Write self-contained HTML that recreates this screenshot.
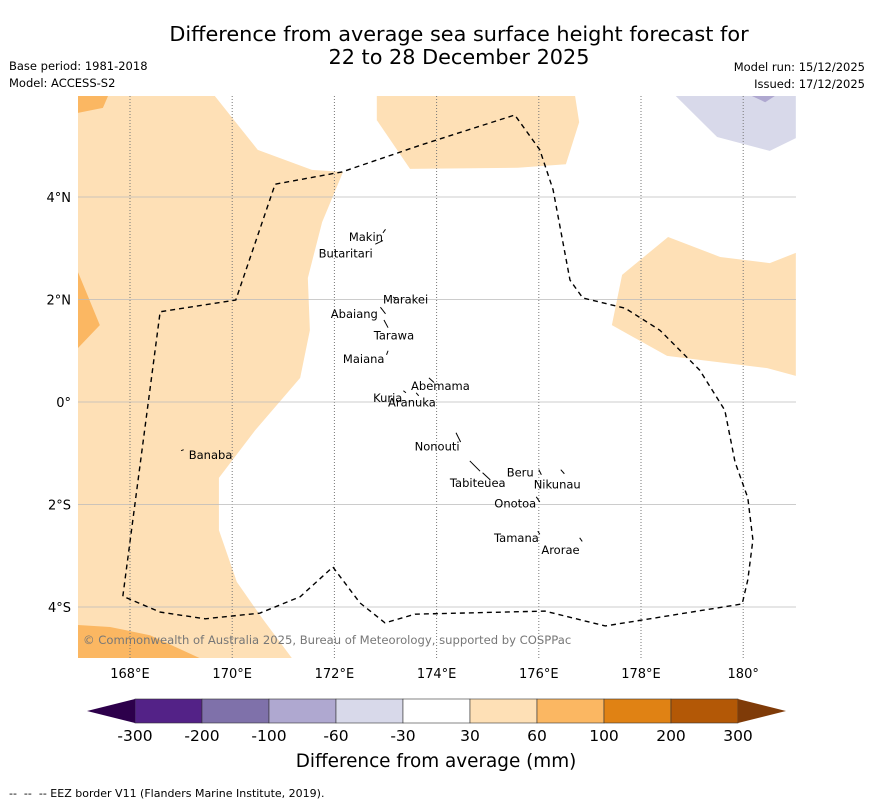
<!DOCTYPE html>
<html><head><meta charset="utf-8"><style>
body{margin:0;background:#fff;font-family:"Liberation Sans","DejaVu Sans",sans-serif}
svg text{font-family:"DejaVu Sans","Liberation Sans",sans-serif}
</style></head><body>
<svg id="c" width="873" height="804" viewBox="0 0 873 804" xmlns="http://www.w3.org/2000/svg">
<text x="459" y="41" text-anchor="middle" font-size="20.8">Difference from average sea surface height forecast for</text>
<text x="459" y="64" text-anchor="middle" font-size="20.8">22 to 28 December 2025</text>
<text x="9" y="70" font-size="11.5">Base period: 1981-2018</text>
<text x="9" y="87" font-size="11.5">Model: ACCESS-S2</text>
<text x="865" y="71" text-anchor="end" font-size="11.5">Model run: 15/12/2025</text>
<text x="865" y="88" text-anchor="end" font-size="11.5">Issued: 17/12/2025</text>
<defs><clipPath id="mc"><rect x="78" y="96" width="718" height="562"/></clipPath></defs>
<g id="map" clip-path="url(#mc)"></g>
<g id="axes"></g>
<text x="83" y="644" font-size="11.6" fill="#777">© Commonwealth of Australia 2025, Bureau of Meteorology, supported by COSPPac</text>
<g id="cbar"></g>
<text x="436" y="767" text-anchor="middle" font-size="18.4">Difference from average (mm)</text>
<text x="9" y="797" font-size="11" xml:space="preserve" style="white-space:pre">--  --  -- EEZ border V11 (Flanders Marine Institute, 2019).</text>
</svg>
<script>
const lonTicks=[168,170,172,174,176,178,180];
const lonLabels=["168°E","170°E","172°E","174°E","176°E","178°E","180°"];
const latTicks=[4,2,0,-2,-4];
const latLabels=["4°N","2°N","0°","2°S","4°S"];
const cbLevels=["-300","-200","-100","-60","-30","30","60","100","200","300"];
const cbColors=["#532287","#7f71aa","#afa8d0","#d8d9ea","#ffffff","#fee0b6","#fbb762","#e08214","#b35806"];
const lightOrange=[[166.98,5.97],[169.66,5.97],[170.5,4.92],[171.56,4.53],[172.17,4.49],[171.76,3.51],[171.48,2.42],[171.52,1.40],[171.33,0.47],[170.45,-0.55],[169.74,-1.48],[169.74,-2.50],[170.09,-3.51],[170.58,-4.21],[171.17,-5.0],[166.98,-5.0]];
const darkTL=[[166.98,5.97],[167.57,5.97],[167.47,5.74],[166.98,5.64]];
const darkLeft=[[166.98,2.54],[167.41,1.50],[166.98,1.05]];
const darkBottom=[[166.98,-4.35],[167.61,-4.39],[168.39,-4.55],[169.37,-5.0],[166.98,-5.0]];
const topMid=[[172.83,5.97],[176.71,5.97],[176.79,5.46],[176.53,4.64],[175.59,4.57],[173.48,4.55],[172.83,5.50]];
const rightPoly=[[178.53,3.22],[179.55,2.83],[180.52,2.71],[181.03,2.91],[181.03,0.51],[180.47,0.66],[178.51,0.90],[177.43,1.50],[177.63,2.48]];
const lavender=[[178.68,5.97],[179.49,5.17],[180.52,4.90],[181.03,5.15],[181.03,5.97]];
const purpleTip=[[180.17,5.97],[180.62,5.97],[180.43,5.85]];
const eez=[[167.86,-3.79],[168.59,1.76],[170.07,1.99],[170.84,4.25],[172.15,4.49],[173.68,5.01],[175.53,5.60],[176.02,4.92],[176.28,4.14],[176.61,2.38],[176.86,2.03],[177.69,1.83],[178.37,1.40],[179.15,0.62],[179.64,-0.16],[179.84,-1.17],[180.09,-1.87],[180.19,-2.69],[180.09,-3.47],[179.98,-3.94],[177.30,-4.37],[176.12,-4.08],[173.58,-4.14],[172.99,-4.31],[172.50,-3.92],[171.97,-3.22],[171.33,-3.80],[170.54,-4.12],[169.47,-4.23],[168.59,-4.10],[167.86,-3.79]];
const islands=[["Makin",172.95,3.22,"end"],["Butaritari",172.75,2.90,"end"],["Marakei",172.95,2.00,"start"],["Abaiang",172.85,1.72,"end"],["Tarawa",172.77,1.30,"start"],["Maiana",172.98,0.84,"end"],["Abemama",173.5,0.31,"start"],["Kuria",173.33,0.08,"end"],["Aranuka",173.05,-0.01,"start"],["Nonouti",174.45,-0.87,"end"],["Banaba",169.15,-1.03,"start"],["Tabiteuea",175.35,-1.58,"end"],["Beru",175.9,-1.38,"end"],["Nikunau",175.9,-1.61,"start"],["Onotoa",175.95,-1.98,"end"],["Tamana",176.0,-2.65,"end"],["Arorae",176.05,-2.89,"start"]];
const coast=[[172.95,3.3,173.0,3.37],[172.8,3.08,172.95,3.15],[173.2,2.0,173.15,2.05],[172.9,1.85,173.0,1.72],[172.97,1.60,173.05,1.45],[173.02,0.92,173.05,1.0],[173.85,0.47,173.95,0.38],[173.35,0.22,173.4,0.18],[173.6,0.18,173.65,0.12],[174.38,-0.6,174.47,-0.78],[174.65,-1.15,174.85,-1.35],[174.9,-1.38,175.05,-1.52],[176.0,-1.32,176.05,-1.42],[176.43,-1.32,176.5,-1.40],[175.95,-1.85,176.02,-1.95],[175.98,-2.52,176.02,-2.58],[176.8,-2.65,176.85,-2.72],[169.0,-0.95,169.05,-0.93]];
const NS="http://www.w3.org/2000/svg";
const x0=130,dx=51.1,y0=402,dy=51.25;
const X=lon=>x0+(lon-168)*dx, Y=lat=>y0-lat*dy;
function mk(p,tag,a){const e=document.createElementNS(NS,tag);for(const k in a)e.setAttribute(k,a[k]);p.appendChild(e);return e;}
const map=document.getElementById('map');
function poly(pts,fill,name){const e=mk(map,'polygon',{points:pts.map(p=>X(p[0])+','+Y(p[1])).join(' '),fill:fill});

}
poly(lightOrange,'#fee0b6','anomaly-30-60-west');
poly(darkTL,'#fbb762','anomaly-60-100-northwest');
poly(darkLeft,'#fbb762','anomaly-60-100-west');
poly(darkBottom,'#fbb762','anomaly-60-100-southwest');
poly(topMid,'#fee0b6','anomaly-30-60-north');
poly(rightPoly,'#fee0b6','anomaly-30-60-east');
poly(lavender,'#d8d9ea','anomaly-neg30-neg60-northeast');
poly(purpleTip,'#afa8d0','anomaly-neg60-neg100-northeast');
const axes=document.getElementById('axes');
lonTicks.forEach((t,i)=>{const l=mk(map,'line',{x1:X(t),x2:X(t),y1:96,y2:658,stroke:'#777','stroke-width':1,'stroke-dasharray':'1,2'});


const tx=mk(axes,'text',{x:X(t),y:678,'text-anchor':'middle','font-size':13});tx.textContent=lonLabels[i];

});
latTicks.forEach((t,i)=>{const l=mk(map,'line',{x1:78,x2:796,y1:Y(t),y2:Y(t),stroke:'#bbb','stroke-width':0.8});


const tx=mk(axes,'text',{x:71,y:Y(t)+5,'text-anchor':'end','font-size':13});tx.textContent=latLabels[i];

});
const ez=mk(map,'polyline',{points:eez.map(p=>X(p[0])+','+Y(p[1])).join(' '),fill:'none',stroke:'#000','stroke-width':1.4,'stroke-dasharray':'5,4'});


coast.forEach(c=>{const l=mk(map,'line',{x1:X(c[0]),y1:Y(c[1]),x2:X(c[2]),y2:Y(c[3]),stroke:'#000','stroke-width':1});

});
islands.forEach(s=>{const t=mk(map,'text',{x:X(s[1]),y:Y(s[2])+4,'text-anchor':s[3],'font-size':11.5});t.textContent=s[0];

});
const cb=document.getElementById('cbar');
const cbx0=135,cbw=603/9,cby=699,cbh=24;
cbColors.forEach((c,i)=>{const r=mk(cb,'rect',{x:cbx0+i*cbw,y:cby,width:cbw,height:cbh,fill:c,stroke:'#333','stroke-width':0.6});

});
const lt=mk(cb,'polygon',{points:`87,${cby+cbh/2} ${cbx0},${cby} ${cbx0},${cby+cbh}`,fill:'#2d004b'});


const rt=mk(cb,'polygon',{points:`${cbx0+603},${cby} 786,${cby+cbh/2} ${cbx0+603},${cby+cbh}`,fill:'#7f3b08'});


cbLevels.forEach((v,i)=>{const t=mk(cb,'text',{x:cbx0+i*cbw,y:741,'text-anchor':'middle','font-size':15.5});t.textContent=v;

});
</script>
</body></html>
